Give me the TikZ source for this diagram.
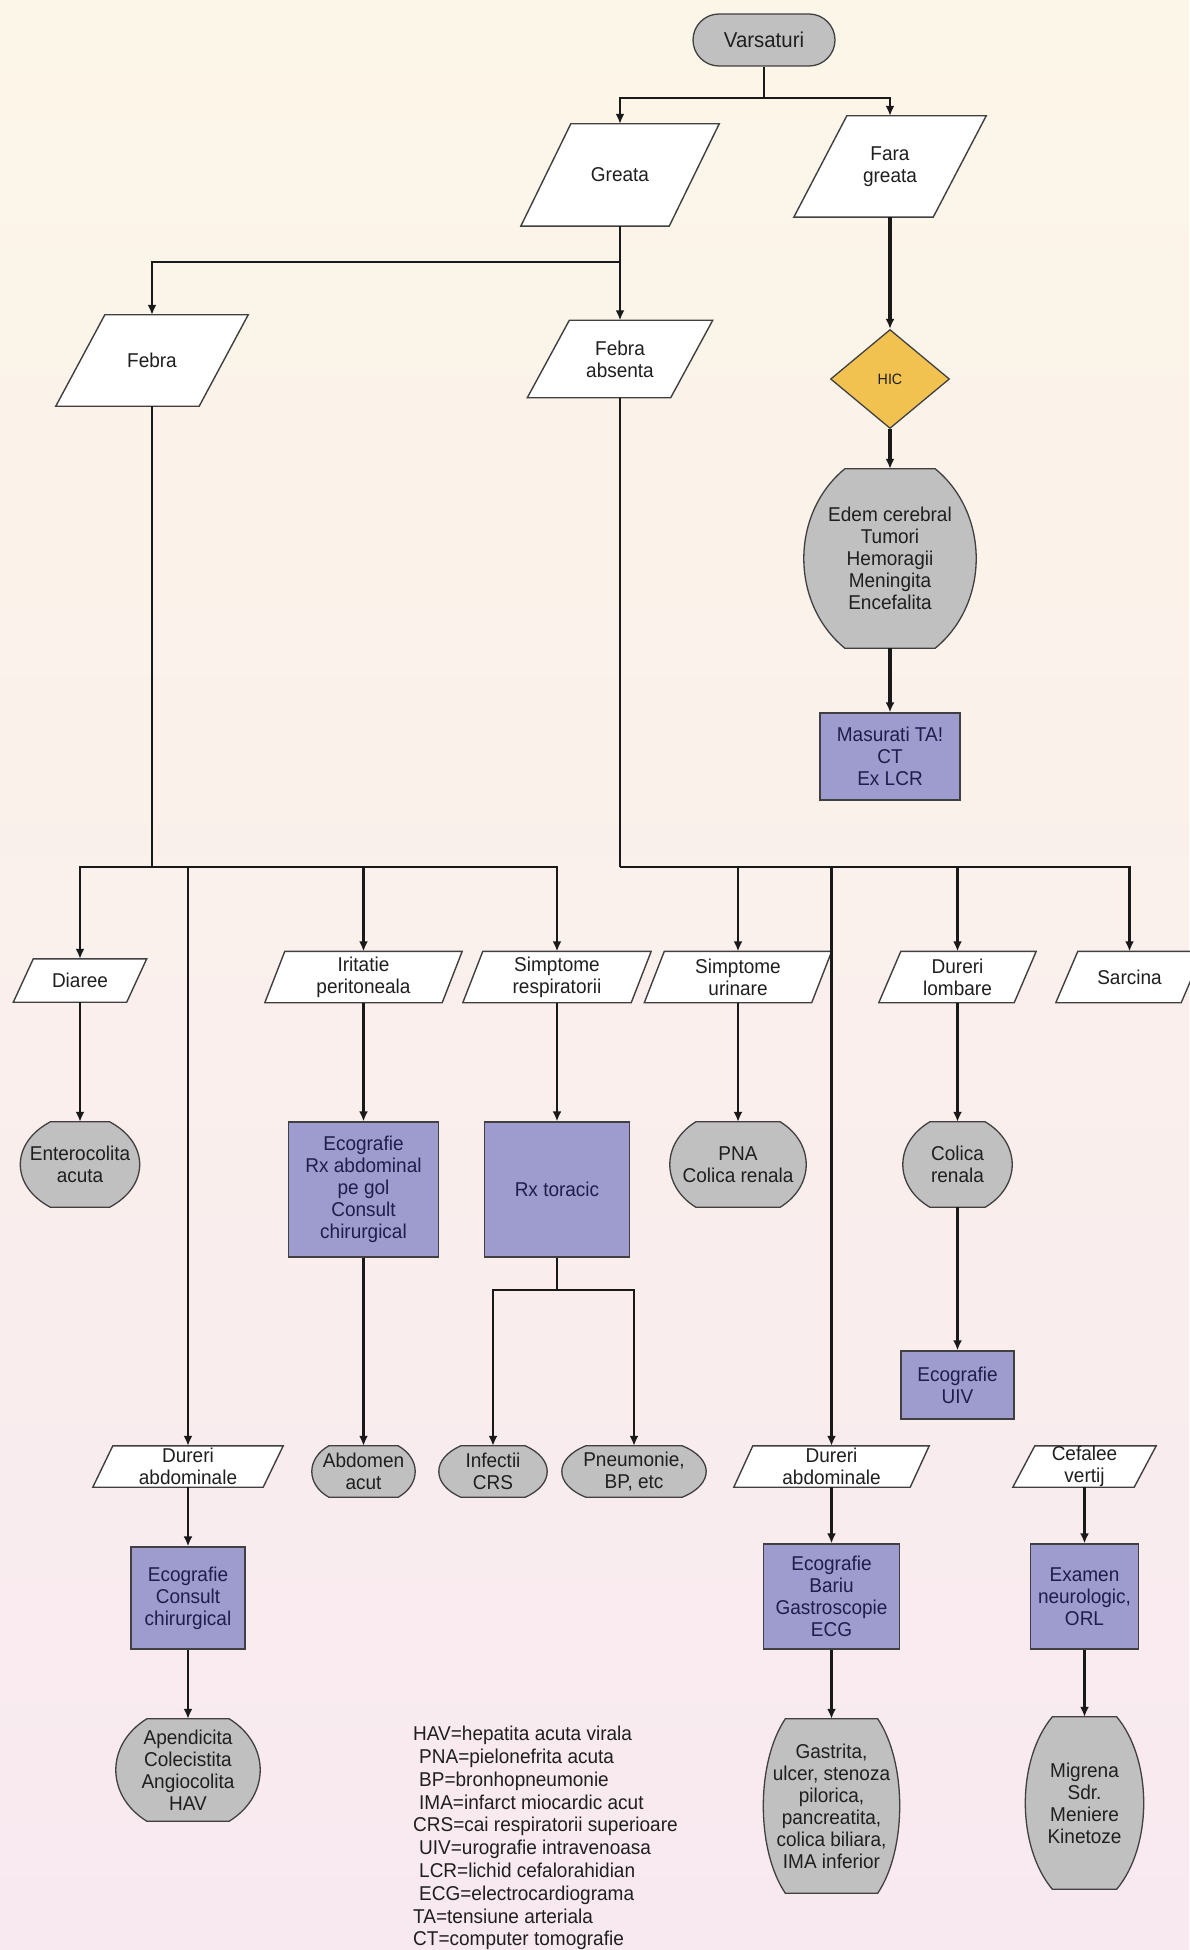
\documentclass[tikz,border=0pt]{standalone}
\usepackage{fontspec}
\setmainfont[FakeStretch=0.95]{Liberation Sans}
\usetikzlibrary{arrows.meta,backgrounds,calc,shapes.geometric,shapes.misc}
\definecolor{bgtop}{RGB}{252,246,232}
\definecolor{bgbottom}{RGB}{248,233,240}
\definecolor{termgray}{RGB}{192,192,192}
\definecolor{examviolet}{RGB}{158,155,206}
\definecolor{hicyellow}{RGB}{242,194,80}
\definecolor{edgegray}{RGB}{64,64,64}
\definecolor{inkblue}{RGB}{30,30,75}
\tikzset{>={Latex[length=10pt,width=9pt]}}
\tikzset{
  txt/.style = {inner sep=0pt, align=center, text=black!88,
    font=\fontsize{20}{22}\selectfont},
  box size/.style 2 args = {minimum width=#1pt, minimum height=#2pt},
  cond/.style = {txt},
  outcome/.style = {txt},
  exam/.style = {txt, draw=edgegray, line width=1.3pt, fill=examviolet, text=inkblue},
  start/.style = {txt, rounded rectangle, draw=edgegray, line width=1.3pt, fill=termgray,
    font=\fontsize{21.5}{22}\selectfont},
  decision/.style = {txt, diamond, draw=edgegray, line width=1.3pt, fill=hicyellow,
    font=\fontsize{15}{18}\selectfont},
  flow/.style = {line width=2.8pt, black!90},
  heavy flow/.style = {flow, line width=3.6pt},
  para line/.style = {draw=edgegray, line width=1.4pt, fill=white},
  barrel line/.style = {draw=edgegray, line width=1.3pt, fill=termgray}
}

\begin{document}
\begin{tikzpicture}[x=1pt,y=-1pt]
  \useasboundingbox (0,0) rectangle (1189,1950);
  % top part
  \node[start, box size={142}{52}] (vars) at (764,40) {Varsaturi};
  \node[cond, box size={198}{102}] (greata) at (620,175) {Greata};
  \node[cond, box size={192}{101}] (fara) at (890,166.5) {Fara\\greata};
  \node[cond, box size={192}{91}] (febra) at (152,360.5) {Febra};
  \node[cond, box size={185}{77}] (febrabs) at (620,359) {Febra\\absenta};
  \node[decision, box size={119}{99}] (hic) at (890,379) {HIC};
  \node[outcome, box size={172}{179}] (edem) at (890,558.5) {Edem cerebral\\Tumori\\Hemoragii\\Meningita\\Encefalita};
  \node[exam, box size={140}{87}] (masurati) at (890,756.5) {Masurati TA!\\CT\\Ex LCR};
  % symptoms row
  \node[cond, box size={133}{43}] (diaree) at (80,980.5) {Diaree};
  \node[cond, box size={197}{51}] (iritatie) at (363.5,977) {Iritatie\\peritoneala};
  \node[cond, box size={188}{51}] (simresp) at (557,977) {Simptome\\respiratorii};
  \node[cond, box size={187}{51}] (simurin) at (738,977) {Simptome\\urinare};
  \node[cond, box size={157}{51}] (lombar) at (957.5,977) {Dureri\\lombare};
  \node[cond, box size={147}{51}] (sarcina) at (1129.5,977) {Sarcina};
  % middle part
  \node[outcome, box size={119}{85}] (entero) at (80,1164.5) {Enterocolita\\acuta};
  \node[exam, box size={150}{135}] (ecoirit) at (363.5,1189.5) {Ecografie\\Rx abdominal\\pe gol\\Consult\\chirurgical};
  \node[exam, box size={145}{135}] (rxtor) at (557,1189.5) {Rx toracic};
  \node[outcome, box size={136}{85}] (pna) at (738,1164.5) {PNA\\Colica renala};
  \node[outcome, box size={109}{85}] (colica) at (957.5,1164.5) {Colica\\renala};
  \node[exam, box size={113}{68}] (ecouiv) at (957.5,1385) {Ecografie\\UIV};
  % lower part
  \node[cond, box size={190}{41}] (durabs1) at (188,1466.5) {Dureri\\abdominale};
  \node[outcome, box size={103}{51}] (abdomen) at (363.5,1471.5) {Abdomen\\acut};
  \node[outcome, box size={108}{51}] (infectii) at (493,1471.5) {Infectii\\CRS};
  \node[outcome, box size={144}{51}] (pneumonie) at (634,1471.5) {Pneumonie,\\BP, etc};
  \node[cond, box size={195}{41}] (durabs2) at (831.5,1466.5) {Dureri\\abdominale};
  \node[cond, box size={143}{41}] (cefalee) at (1084.5,1466.5) {Cefalee\\vertij};
  \node[exam, box size={114}{102}] (ecocons) at (188,1598) {Ecografie\\Consult\\chirurgical};
  \node[exam, box size={136}{105}] (ecobariu) at (831.5,1596.5) {Ecografie\\Bariu\\Gastroscopie\\ECG};
  \node[exam, box size={108}{105}] (examen) at (1084.5,1596.5) {Examen\\neurologic,\\ORL};
  \node[outcome, box size={144}{102}] (apend) at (188,1770) {Apendicita\\Colecistita\\Angiocolita\\HAV};
  \node[outcome, box size={136}{174}] (gastrita) at (831.5,1806) {Gastrita,\\ulcer, stenoza\\pilorica,\\pancreatita,\\colica biliara,\\IMA inferior};
  \node[outcome, box size={118}{172}] (migrena) at (1084.5,1803) {Migrena\\Sdr.\\Meniere\\Kinetoze};
  % abbreviations
  \node[txt, align=left, anchor=north west, font=\fontsize{20}{22.8}\selectfont] (legend) at (413,1726)
    {HAV=hepatita acuta virala\\
     \hspace*{6pt}PNA=pielonefrita acuta\\
     \hspace*{6pt}BP=bronhopneumonie\\
     \hspace*{6pt}IMA=infarct miocardic acut\\
     CRS=cai respiratorii superioare\\
     \hspace*{6pt}UIV=urografie intravenoasa\\
     \hspace*{6pt}LCR=lichid cefalorahidian\\
     \hspace*{6pt}ECG=electrocardiograma\\
     TA=tensiune arteriala\\
     CT=computer tomografie};

  % connectors
  \coordinate (vsplit) at (764,98);
  \draw[flow] (vars.south) -- (vsplit);
  \draw[flow,->] (vsplit) -| (greata.north);
  \draw[flow,->] (vsplit) -| (fara.north);
  \coordinate (gsplit) at (620,262);
  \draw[flow] (greata.south) -- (gsplit);
  \draw[flow,->] (gsplit) -| (febra.north);
  \draw[flow,->] (gsplit) -- (febrabs.north);
  \draw[heavy flow,->] (fara.south) -- (hic.north);
  \draw[heavy flow,->] (hic.south) -- (edem.north);
  \draw[heavy flow,->] (edem.south) -- (masurati.north);
  % buses
  \coordinate (lbus) at (152,867);
  \coordinate (rbus) at (620,867);
  \draw[flow] (febra.south) -- (lbus);
  \draw[flow] (febrabs.south) -- (rbus);
  \foreach \n in {diaree,durabs1,iritatie,simresp}
    \draw[flow,->] (lbus) -| (\n.north);
  \foreach \n in {simurin,durabs2,lombar,sarcina}
    \draw[flow,->] (rbus) -| (\n.north);
  % columns
  \draw[flow,->] (diaree.south) -- (entero.north);
  \draw[heavy flow,->] (iritatie.south) -- (ecoirit.north);
  \draw[heavy flow,->] (ecoirit.south) -- (abdomen.north);
  \draw[flow,->] (simresp.south) -- (rxtor.north);
  \coordinate (rxsplit) at (557,1290);
  \draw[flow] (rxtor.south) -- (rxsplit);
  \draw[flow,->] (rxsplit) -| (infectii.north);
  \draw[flow,->] (rxsplit) -| (pneumonie.north);
  \draw[flow,->] (simurin.south) -- (pna.north);
  \draw[heavy flow,->] (lombar.south) -- (colica.north);
  \draw[heavy flow,->] (colica.south) -- (ecouiv.north);
  \draw[flow,->] (durabs1.south) -- (ecocons.north);
  \draw[flow,->] (ecocons.south) -- (apend.north);
  \draw[flow,->] (durabs2.south) -- (ecobariu.north);
  \draw[flow,->] (ecobariu.south) -- (gastrita.north);
  \draw[flow,->] (cefalee.south) -- (examen.north);
  \draw[flow,->] (examen.south) -- (migrena.north);

  % shapes behind the texts
  \begin{scope}[on background layer]
    \shade[top color=bgtop, bottom color=bgbottom] (0,0) rectangle (1189,1950);
    \foreach \n/\s in {greata/50pt,fara/53pt,febra/49pt,febrabs/42pt,diaree/20pt,iritatie/20pt,
        simresp/20pt,simurin/20pt,lombar/22pt,sarcina/22pt,durabs1/20pt,durabs2/19pt,cefalee/22pt}
      \path[para line] (\n.south west) -- ([xshift=\s]\n.north west) -- (\n.north east)
        -- ([xshift=-\s]\n.south east) -- cycle;
    \foreach \n/\b in {edem/41pt,entero/30pt,pna/26pt,colica/27pt,abdomen/17pt,infectii/22pt,
        pneumonie/24pt,apend/31pt,gastrita/22pt,migrena/27pt}
      \path[barrel line] ([xshift=\b]\n.north west) -- ([xshift=-\b]\n.north east)
        .. controls ([xshift=\b/3]$(\n.north east)!.25!(\n.south east)$)
        and ([xshift=\b/3]$(\n.north east)!.75!(\n.south east)$) .. ([xshift=-\b]\n.south east)
        -- ([xshift=\b]\n.south west)
        .. controls ([xshift=-\b/3]$(\n.south west)!.25!(\n.north west)$)
        and ([xshift=-\b/3]$(\n.south west)!.75!(\n.north west)$) .. cycle;
  \end{scope}
\end{tikzpicture}
\end{document}
